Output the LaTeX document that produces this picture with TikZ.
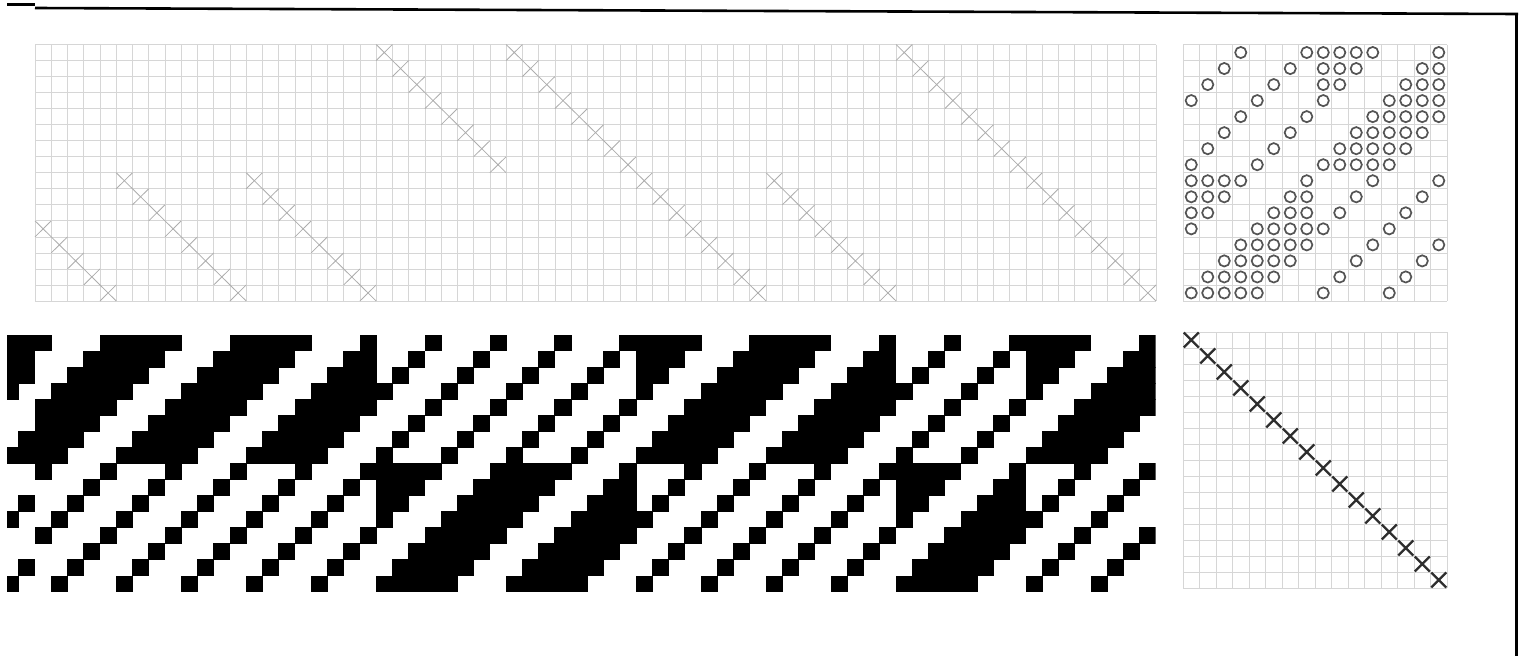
\documentclass[tikz,border=0pt]{standalone}
\definecolor{gridc}{gray}{0.84}
\definecolor{thrx}{gray}{0.68}
\definecolor{circc}{gray}{0.33}
\definecolor{trx}{gray}{0.18}
\tikzset{
  gridline/.style={draw=gridc,line width=0.7pt},
  threadx/.style={draw=thrx,line width=0.8pt},
  tiecirc/.style={draw=circc,line width=1.7pt},
  treadx/.style={draw=trx,line width=2.2pt},
  ddcell/.style={fill=black},
  frameline/.style={draw=black,line width=2.8pt}
}
\newcommand\settu[2]{\expandafter\def\csname tu#1\endcsname{#2}}
\settu{0}{3,7,8,9,10,11,15}
\settu{1}{2,6,8,9,10,14,15}
\settu{2}{1,5,8,9,13,14,15}
\settu{3}{0,4,8,12,13,14,15}
\settu{4}{3,7,11,12,13,14,15}
\settu{5}{2,6,10,11,12,13,14}
\settu{6}{1,5,9,10,11,12,13}
\settu{7}{0,4,8,9,10,11,12}
\settu{8}{0,1,2,3,7,11,15}
\settu{9}{0,1,2,6,7,10,14}
\settu{10}{0,1,5,6,7,9,13}
\settu{11}{0,4,5,6,7,8,12}
\settu{12}{3,4,5,6,7,11,15}
\settu{13}{2,3,4,5,6,10,14}
\settu{14}{1,2,3,4,5,9,13}
\settu{15}{0,1,2,3,4,8,12}
\begin{document}
\begin{tikzpicture}[x=1pt,y=-1pt]
\useasboundingbox (0,0) rectangle (1521,656);
\fill[white] (0,0) rectangle (1521,656);
% page frame
\draw[frameline] (7,4.5) -- (35,4.5);
\draw[draw=black,line width=2.6pt] (35,8) -- (1518,14);
\draw[frameline] (1516.5,13) -- (1516.5,656);
% threading grid
\def\tx{35}\def\tw{16.2464}\def\ty{44.5}\def\th{16.03}
\foreach \k in {0,...,69} \draw[gridline] ({\tx+\tw*\k},\ty) -- ({\tx+\tw*\k},{\ty+16*\th});
\foreach \k in {0,...,16} \draw[gridline] (\tx,{\ty+\th*\k}) -- ({\tx+69*\tw},{\ty+\th*\k});
% tie-up grid
\def\ux{1183}\def\uw{16.5}
\foreach \k in {0,...,16} \draw[gridline] ({\ux+\uw*\k},\ty) -- ({\ux+\uw*\k},{\ty+16*\th});
\foreach \k in {0,...,16} \draw[gridline] (\ux,{\ty+\th*\k}) -- ({\ux+16*\uw},{\ty+\th*\k});
% treadling grid
\def\ry{332}\def\rh{16}
\foreach \k in {0,...,16} \draw[gridline] ({\ux+\uw*\k},\ry) -- ({\ux+\uw*\k},{\ry+16*\rh});
\foreach \k in {0,...,16} \draw[gridline] (\ux,{\ry+\rh*\k}) -- ({\ux+16*\uw},{\ry+\rh*\k});
% threading marks
\foreach \a/\b/\s in {0/4/11, 5/12/8, 13/20/8, 21/28/0, 29/44/0, 45/52/8, 53/68/0} {
  \foreach \c in {\a,...,\b} {
    \pgfmathtruncatemacro\sh{\s+\c-(\a)}
    \draw[threadx] ({\tx+\tw*\c},{\ty+\th*\sh}) -- ++(\tw,\th)
                   ({\tx+\tw*(\c+1)},{\ty+\th*\sh}) -- ++(-\tw,\th);
  }
}
% tie-up circles
\foreach \r in {0,...,15} {
  \edef\lst{\csname tu\r\endcsname}
  \foreach \t in \lst {
    \draw[tiecirc] ({\ux+\uw*(\t+0.5)},{\ty+\th*(\r+0.5)}) circle (5.6pt);
  }
}
% treadling marks
\foreach \i in {0,...,15} {
  \draw[treadx] ({\ux+\uw*(\i+0.5)-7.5},{\ry+\rh*(\i+0.5)-7.5}) -- ++(15,15)
                ({\ux+\uw*(\i+0.5)+7.5},{\ry+\rh*(\i+0.5)-7.5}) -- ++(-15,15);
}
% drawdown
\def\dy{335}\def\dh{16.06}
\begin{scope}
\clip (7,330) rectangle (1155.5,600);
\foreach \a/\b/\s in {-2/-1/8, 0/4/11, 5/12/8, 13/20/8, 21/28/0, 29/44/0, 45/52/8, 53/68/0} {
  \foreach \c in {\a,...,\b} {
    \pgfmathtruncatemacro\sh{\s+\c-(\a)}
    \edef\lst{\csname tu\sh\endcsname}
    \foreach \i in \lst {
      \fill[ddcell] ({\tx+\tw*\c-0.4},{\dy+\dh*\i-0.4}) rectangle ++({\tw+0.8},{\dh+0.8});
    }
  }
}
\end{scope}
\end{tikzpicture}
\end{document}
